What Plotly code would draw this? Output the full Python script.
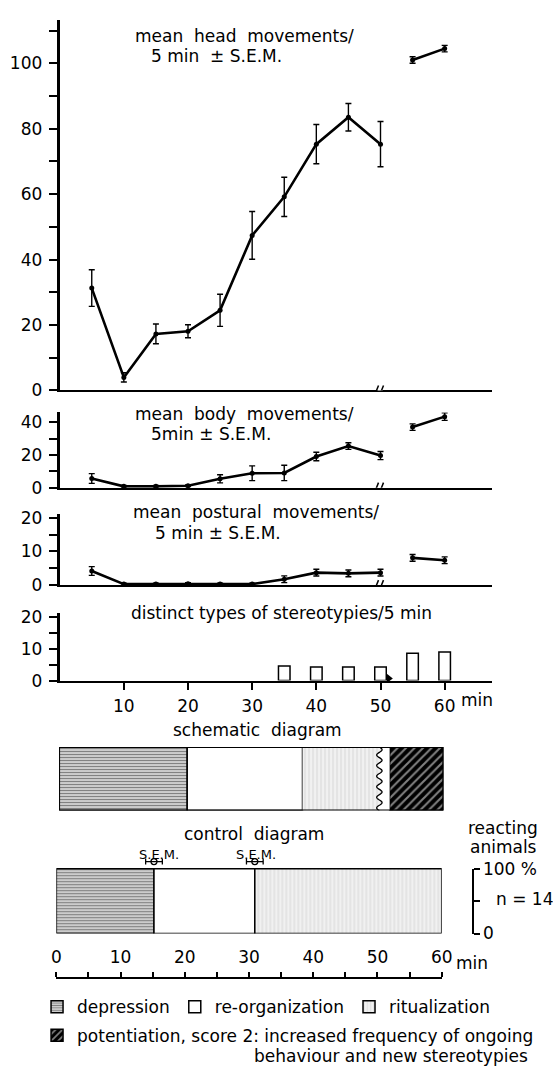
import numpy as np
import plotly.graph_objects as go

W, H = 553, 1076
FONT = "DejaVu Sans"
SP = "\u00a0"

# ---- time course (5-min intervals) ----
minutes = [5, 10, 15, 20, 25, 30, 35, 40, 45, 50, 55, 60]
head_mean = [31.3, 4.0, 17.3, 18.1, 24.5, 47.4, 59.2, 75.3, 83.5, 75.3, 101.0, 104.5]
head_sem = [5.6, 1.4, 3.0, 2.0, 4.9, 7.3, 6.0, 6.0, 4.2, 6.9, 1.0, 1.0]
body_mean = [5.6, 0.8, 0.8, 1.2, 5.4, 8.8, 9.0, 19.0, 25.4, 19.6, 37.0, 43.4]
body_sem = [3.0, 0.5, 0.5, 0.5, 2.5, 4.5, 4.7, 2.6, 2.0, 2.5, 2.0, 2.3]
post_mean = [4.2, 0.3, 0.3, 0.4, 0.3, 0.3, 1.75, 3.7, 3.5, 3.7, 8.1, 7.4]
post_sem = [1.3, 0.3, 0.3, 0.3, 0.3, 0.3, 1.0, 1.0, 1.0, 1.0, 1.0, 1.0]
BREAK_MIN = 50  # axis break after this interval

stereo_minutes = [35, 40, 45, 50, 55, 60]
stereo_types = [4.6, 4.3, 4.3, 4.3, 8.6, 9.0]
ARROW_MIN = 51.3

# ---- phase diagrams ----
phase_names = ["depression", "re-organization", "ritualization", "potentiation"]
schematic_start = [0, 20, 38, 51.6]
schematic_end = [20, 38, 50.4, 60]
WAVE_MIN = 50.0
control_start = [0, 15.2, 30.9]
control_end = [15.2, 30.9, 60]
control_sem = [1.3, 1.3]
N_ANIMALS = 14

x_ticks_min = [10, 20, 30, 40, 50, 60]
scale_ticks = list(range(0, 61, 5))


def px(p):
    return p / W


def py(p):
    return 1 - p / H


patterns = {
    "depression": dict(shape="-", fgcolor="black", bgcolor="white", size=3, solidity=0.6),
    "re-organization": dict(shape="", bgcolor="white"),
    "ritualization": dict(shape="|", fgcolor="#c4c4c4", bgcolor="#f1f1f1", size=4, solidity=0.3),
    "potentiation": dict(shape="/", fgcolor="white", bgcolor="black", size=6, solidity=0.35),
}

fig = go.Figure()


def add_series(mean, sem, xa, ya):
    idx_a = [i for i, m in enumerate(minutes) if m <= BREAK_MIN]
    idx_b = [i for i, m in enumerate(minutes) if m > BREAK_MIN]
    for idx in (idx_a, idx_b):
        fig.add_trace(go.Scatter(
            x=[minutes[i] for i in idx], y=[mean[i] for i in idx],
            error_y=dict(type="data", array=[sem[i] for i in idx], color="black",
                         thickness=1.4, width=3),
            mode="lines+markers", line=dict(color="black", width=2.6),
            marker=dict(color="black", size=5), cliponaxis=False,
            xaxis=xa, yaxis=ya, showlegend=False, hoverinfo="skip"))


add_series(head_mean, head_sem, "x", "y")
add_series(body_mean, body_sem, "x2", "y2")
add_series(post_mean, post_sem, "x3", "y3")

fig.add_trace(go.Bar(
    x=stereo_minutes, y=stereo_types, width=1.8,
    marker=dict(color="white", line=dict(color="black", width=1.5)),
    xaxis="x4", yaxis="y4", showlegend=False, hoverinfo="skip"))
fig.add_trace(go.Scatter(
    x=[ARROW_MIN], y=[0.7], mode="markers",
    marker=dict(symbol="triangle-right", size=8, color="black"),
    cliponaxis=False, xaxis="x4", yaxis="y4", showlegend=False, hoverinfo="skip"))

# schematic diagram
for name, s, e in zip(phase_names, schematic_start, schematic_end):
    lw = 0 if name == "ritualization" else 1.5
    label = name
    if name == "potentiation":
        label = "potentiation, score 2: increased frequency of ongoing"
    fig.add_trace(go.Bar(
        x=[e - s], base=[s], y=[0], orientation="h", width=1,
        marker=dict(color="white", pattern=patterns[name], line=dict(color="black", width=lw)),
        xaxis="x5", yaxis="y5", name=label, legend="legend2",
        showlegend=(name == "potentiation"), hoverinfo="skip"))

# control diagram
for name, s, e in zip(phase_names[:3], control_start, control_end):
    fig.add_trace(go.Bar(
        x=[e - s], base=[s], y=[0], orientation="h", width=1,
        marker=dict(color="white", pattern=patterns[name], line=dict(color="black", width=1.5)),
        xaxis="x6", yaxis="y6", name=name, legend="legend", showlegend=True, hoverinfo="skip"))

fig.add_trace(go.Scatter(
    x=control_end[:2], y=[0.61, 0.61], mode="markers",
    marker=dict(symbol="circle-open", size=6, color="black", line=dict(width=1.3)),
    error_x=dict(type="data", array=control_sem, color="black", thickness=1.3, width=3),
    cliponaxis=False, xaxis="x6", yaxis="y6", showlegend=False, hoverinfo="skip"))

# carriers for the reacting-animals bracket and the bottom minute scale
fig.add_trace(go.Scatter(x=[None], y=[None], xaxis="x6", yaxis="y7", showlegend=False))
fig.add_trace(go.Scatter(x=[None], y=[None], xaxis="x7", yaxis="y8", showlegend=False))

X_DOM = [px(56.3), px(501)]
X_RANGE = [0, 67.3]
tickfont = dict(family=FONT, size=17, color="black")

common_x = dict(domain=X_DOM, range=X_RANGE, showline=True, linecolor="black", linewidth=2,
                ticks="", showticklabels=False, showgrid=False, zeroline=False)
common_y = dict(showline=True, linecolor="black", linewidth=3, ticks="outside", ticklen=8,
                tickwidth=1.5, tickcolor="black", showgrid=False, zeroline=False,
                tickfont=tickfont, ticklabelstandoff=3)


def labelled(vals, every):
    return [str(v) if v % every == 0 else "" for v in vals]


head_ticks = list(range(0, 111, 10))
body_ticks = [0, 10, 20, 30, 40]
small_ticks = [0, 5, 10, 15, 20]
legend_font = dict(family=FONT, size=17, color="black")

layout = dict(
    width=W, height=H, margin=dict(l=0, r=0, t=0, b=0),
    paper_bgcolor="white", plot_bgcolor="rgba(0,0,0,0)",
    font=dict(family=FONT, color="black"),
    barmode="overlay", hovermode=False,
    xaxis=dict(common_x, anchor="y"),
    xaxis2=dict(common_x, anchor="y2"),
    xaxis3=dict(common_x, anchor="y3"),
    xaxis4=dict(common_x, anchor="y4", ticks="outside", ticklen=7, tickwidth=1.5,
                tickcolor="black", showticklabels=True, tickvals=x_ticks_min,
                ticktext=[str(v) for v in x_ticks_min], tickfont=tickfont, ticklabelstandoff=2),
    yaxis=dict(common_y, domain=[py(387.7), py(10)], range=[0, 113.3], anchor="x",
               tickvals=head_ticks, ticktext=labelled(head_ticks, 20)),
    yaxis2=dict(common_y, domain=[py(486.7), py(410)], range=[0, 46], anchor="x2",
                tickvals=body_ticks, ticktext=labelled(body_ticks, 20)),
    yaxis3=dict(common_y, domain=[py(586), py(514)], range=[0, 21], anchor="x3",
                tickvals=small_ticks, ticktext=labelled(small_ticks, 10)),
    yaxis4=dict(common_y, domain=[py(683.3), py(614.8)], range=[0, 21.2], anchor="x4",
                tickvals=small_ticks, ticktext=labelled(small_ticks, 10)),
    xaxis5=dict(domain=[px(55.7), px(451.5)], range=[0, 60], visible=False, anchor="y5"),
    yaxis5=dict(domain=[py(815.7), py(751)], range=[-0.5, 0.5], visible=False, anchor="x5"),
    xaxis6=dict(domain=[px(52.9), px(449.7)], range=[0, 60], visible=False, anchor="y6"),
    yaxis6=dict(domain=[py(941), py(850)], range=[-0.5, -0.5 + 91 / 66], visible=False, anchor="x6"),
    yaxis7=dict(domain=[py(941), py(875)], range=[0, 100], anchor="free", position=px(481.5),
                side="right", showline=True, linecolor="black", linewidth=2, ticks="outside",
                ticklen=6, tickwidth=1.5, tickcolor="black", tickvals=[0, 50, 100],
                ticktext=["0", "", "100 %"], tickfont=tickfont, ticklabelstandoff=0,
                showgrid=False, zeroline=False),
    xaxis7=dict(domain=[px(52.9), px(449.7)], range=[0, 60], anchor="y8", side="top",
                showline=True, linecolor="black", linewidth=2, ticks="outside", ticklen=5,
                tickwidth=1.5, tickcolor="black", tickvals=scale_ticks,
                ticktext=labelled(scale_ticks, 10), tickfont=tickfont, ticklabelstandoff=2,
                showgrid=False, zeroline=False),
    yaxis8=dict(domain=[py(995), py(987.3)], visible=False, anchor="x7"),
    legend=dict(orientation="h", x=px(33), y=py(1016), xanchor="left", yanchor="middle",
                font=legend_font, bgcolor="rgba(0,0,0,0)", itemwidth=30, tracegroupgap=0),
    legend2=dict(orientation="h", x=px(33), y=py(1045), xanchor="left", yanchor="middle",
                 font=legend_font, bgcolor="rgba(0,0,0,0)", itemwidth=30),
)
fig.update_layout(**layout)

# axis breaks on the x axes of the three movement panels
shapes = []
for xa, ya in (("x", "y"), ("x2", "y2"), ("x3", "y3")):
    shapes.append(dict(type="rect", xref=xa, yref=ya, xsizemode="pixel", ysizemode="pixel",
                       xanchor=BREAK_MIN, yanchor=0, x0=-3, x1=2, y0=-2, y1=2,
                       fillcolor="white", line=dict(width=0)))
    for off in (-4, 1):
        shapes.append(dict(type="line", xref=xa, yref=ya, xsizemode="pixel", ysizemode="pixel",
                           xanchor=BREAK_MIN, yanchor=0, x0=off - 2, x1=off + 2, y0=-5, y1=5,
                           line=dict(color="black", width=1.5)))

# wavy right edge of the ritualization phase in the schematic diagram
t = np.linspace(0, 1, 121)
amp = 0.42
wave_x = WAVE_MIN + amp * np.sin(2 * np.pi * 6 * t)
wave_y = 0.5 - t
pts = " L".join(f"{a:.3f},{b:.4f}" for a, b in zip(wave_x, wave_y))
fill_path = f"M{pts} L{schematic_start[3]},-0.5 L{schematic_start[3]},0.5 Z"
shapes.append(dict(type="path", xref="x5", yref="y5", path=fill_path,
                   fillcolor="white", line=dict(width=0)))
shapes.append(dict(type="path", xref="x5", yref="y5", path="M" + pts,
                   line=dict(color="black", width=1.3)))
shapes.append(dict(type="rect", xref="x5", yref="y5", x0=0, x1=60, y0=-0.5, y1=0.5,
                   line=dict(color="black", width=2), fillcolor="rgba(0,0,0,0)"))
fig.update_layout(shapes=shapes)


def note(text, x, y, size=17, anchor="left"):
    fig.add_annotation(text=text, x=px(x), y=py(y), xref="paper", yref="paper",
                       xanchor=anchor, yanchor="middle", showarrow=False,
                       font=dict(family=FONT, size=size, color="black"))


S2 = SP * 2
note(f"mean{S2}head{S2}movements/", 132, 26)
note(f"5{SP}min{S2}±{SP}S.E.M.", 148, 47)
note(f"mean{S2}body{S2}movements/", 132, 412)
note(f"5min{SP}±{SP}S.E.M.", 148, 432)
note(f"mean{S2}postural{S2}movements/", 130, 512)
note(f"5{SP}min{SP}±{SP}S.E.M.", 152, 533)
note("distinct types of stereotypies/5 min", 128, 614)
note("min", 468, 703)
note(f"schematic{S2}diagram", 260, 734, anchor="center")
note(f"control{S2}diagram", 256, 840, anchor="center")
note("S.E.M.", 159, 860, size=13, anchor="center")
note("S.E.M.", 258, 860, size=13, anchor="center")
note("reacting", 513, 834, anchor="center")
note("animals", 513, 853, anchor="center")
note(f"n = {N_ANIMALS}", 504, 906)
note("min", 462, 971)
note("behaviour and new stereotypies", 541, 1066, size=17, anchor="right")

fig.write_html("out.html")
